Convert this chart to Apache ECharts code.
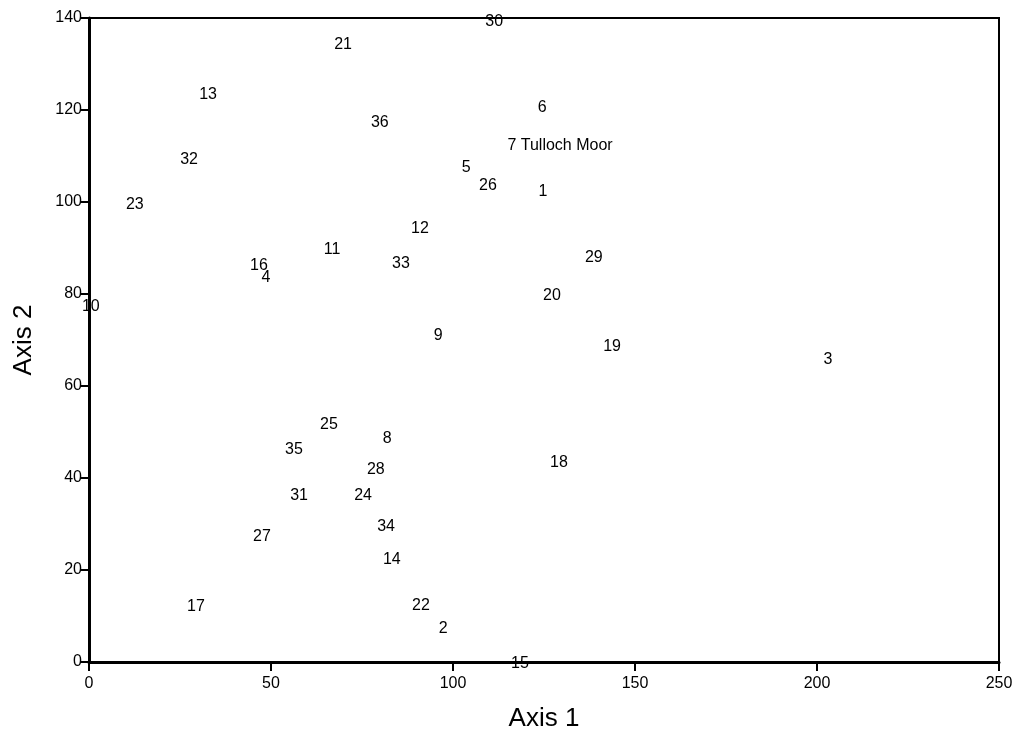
<!DOCTYPE html>
<html>
<head>
<meta charset="utf-8">
<script src="https://cdn.jsdelivr.net/npm/echarts@6/dist/echarts.min.js"></script>
<style>html,body{margin:0;padding:0;background:#fff}#c{width:1018px;height:733px}</style>
</head>
<body>
<div id="c"></div>
<script>
const siteLabels = ['30','21','13','6','36','7 Tulloch Moor','32','5','26','1','23','12','11','29','16','33','4','20','10','9','19','3','25','8','35','18','28','31','24','34','27','14','17','22','2','15'];
const axis1Values = [111.3,69.8,32.7,124.5,79.9,129.4,27.5,103.6,109.6,124.7,12.6,90.9,66.8,138.7,46.7,85.7,48.6,127.2,0.5,95.9,143.7,203,65.9,81.9,56.3,129.1,78.8,57.7,75.3,81.6,47.5,83.2,29.4,91.2,97.3,118.4];
const axis2Values = [139.6,134.6,123.7,120.9,117.8,112.6,109.6,108,103.9,102.6,99.8,94.6,90,88.3,86.7,87,84.1,80,77.6,71.5,68.9,66.1,52,49.1,46.7,43.7,42.2,36.7,36.7,29.8,27.8,22.6,12.4,12.6,7.8,0];
const xTicks = [0,50,100,150,200,250];
const yTicks = [0,20,40,60,80,100,120,140];

const FONT = 'Liberation Sans, Arial, Helvetica, sans-serif';
const pts = siteLabels.map((s,i)=>({value:[axis1Values[i],axis2Values[i]], name:s}));
const chart = echarts.init(document.getElementById('c'));
chart.setOption({
  animation:false,
  backgroundColor:'#fff',
  grid:{left:89,right:19,top:18,bottom:71,show:true,borderColor:'#000',borderWidth:2,containLabel:false,outerBoundsMode:'none'},
  xAxis:{type:'value',min:xTicks[0],max:xTicks[xTicks.length-1],interval:50,
    name:'Axis 1',nameLocation:'middle',nameGap:44,
    nameTextStyle:{fontFamily:FONT,fontSize:26,color:'#000'},
    axisLine:{show:true,lineStyle:{color:'#000',width:3}},
    axisTick:{show:true,inside:false,length:9,lineStyle:{color:'#000',width:2}},
    axisLabel:{color:'#000',fontFamily:FONT,fontSize:16,margin:14},
    splitLine:{show:false}},
  yAxis:{type:'value',min:yTicks[0],max:yTicks[yTicks.length-1],interval:20,
    name:'Axis 2',nameLocation:'middle',nameGap:52,nameRotate:90,
    nameTextStyle:{fontFamily:FONT,fontSize:26,color:'#000'},
    axisLine:{show:true,lineStyle:{color:'#000',width:3}},
    axisTick:{show:true,inside:false,length:8,lineStyle:{color:'#000',width:2}},
    axisLabel:{color:'#000',fontFamily:FONT,fontSize:16,margin:7,padding:[5,0,0,0]},
    splitLine:{show:false}},
  series:[{type:'scatter',data:pts,symbolSize:1,itemStyle:{color:'rgba(0,0,0,0)',opacity:1},
    label:{show:true,position:'inside',offset:[0,2],formatter:p=>p.name,color:'#000',fontFamily:FONT,fontSize:16}}]
});
</script>
</body>
</html>
